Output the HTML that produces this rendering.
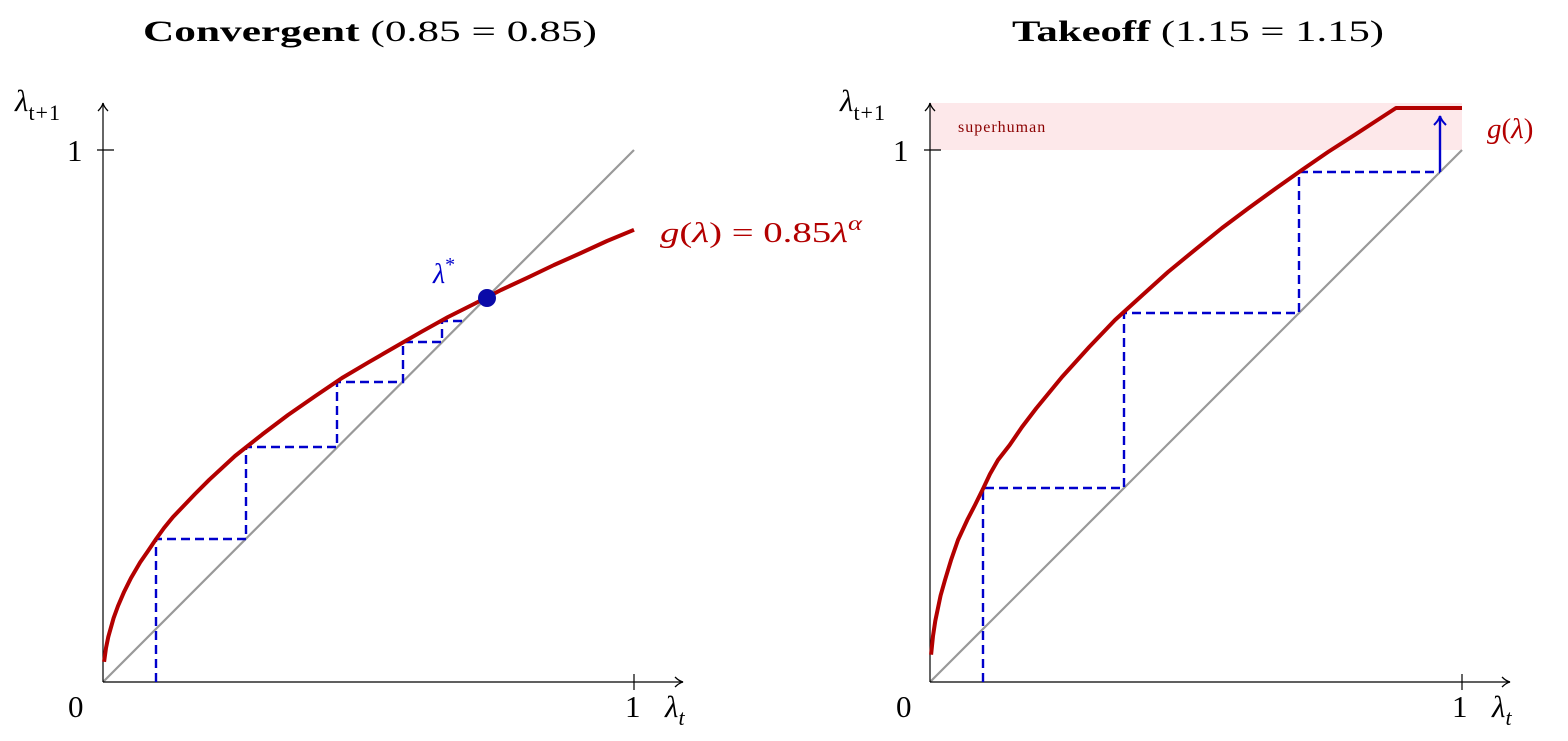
<!DOCTYPE html>
<html><head><meta charset="utf-8"><style>
html,body{margin:0;padding:0;background:#fff;}
svg{display:block;font-family:"Liberation Serif",serif;}
</style></head><body>
<svg width="1568" height="741" viewBox="0 0 1568 741" xmlns="http://www.w3.org/2000/svg">
<defs>
<marker id="ar" markerWidth="12" markerHeight="12" refX="9" refY="6" orient="auto" markerUnits="userSpaceOnUse">
<path d="M1,1 Q5,5 9,6 Q5,7 1,11" fill="none" stroke="#000" stroke-width="1.3"/></marker>
<marker id="ab" markerWidth="14" markerHeight="14" refX="10" refY="7" orient="auto" markerUnits="userSpaceOnUse">
<path d="M1,1 Q6,6 10,7 Q6,8 1,13" fill="none" stroke="#0000cc" stroke-width="2"/></marker>
</defs>
<!-- titles -->
<text x="143" y="41" font-size="30" textLength="454" lengthAdjust="spacingAndGlyphs"><tspan font-weight="bold">Convergent</tspan> (0.85 = 0.85)</text>
<text x="1012" y="41" font-size="30" textLength="372" lengthAdjust="spacingAndGlyphs"><tspan font-weight="bold">Takeoff</tspan> (1.15 = 1.15)</text>

<!-- LEFT -->
<line x1="103" y1="682" x2="634" y2="150" stroke="#999" stroke-width="2.2"/>
<line x1="103" y1="682" x2="103" y2="103" stroke="#000" stroke-width="1.2" marker-end="url(#ar)"/>
<line x1="103" y1="682" x2="683" y2="682" stroke="#000" stroke-width="1.2" marker-end="url(#ar)"/>
<line x1="97" y1="150" x2="114" y2="150" stroke="#000" stroke-width="1.2"/>
<line x1="634" y1="674" x2="634" y2="690" stroke="#000" stroke-width="1.2"/>
<polyline fill="none" stroke="#0000cc" stroke-width="2.4" stroke-dasharray="9,5" points="156,682 156,539 246,539 246,447 337,447 337,382 403,382 403,342 442,342 442,321 464,321"/>
<polyline fill="none" stroke="#b30000" stroke-width="4" stroke-linejoin="round" points="104.1,661.8 106,648 108.3,636.8 113.6,618.1 118,606 124.2,591.6 131,578 140.2,562.3 148,551 156.1,539 164,528 173,517 182.7,506.9 195,494 209.2,479.8 235,456 262.3,434.4 288,415 315.4,396 342,378 368.5,362.3 395,347 421.6,331.7 448,317 474.7,303.6 501,290 527.8,277.6 554,265 580.9,253 607,241 634,229.8"/>
<circle cx="487" cy="298" r="9" fill="#0a0aa8"/>
<text x="433" y="283" font-size="28" fill="#0000cc" font-style="italic">λ<tspan font-size="20" font-style="normal" dy="-12">*</tspan></text>
<text x="660" y="242" font-size="29" fill="#b30000" textLength="202" lengthAdjust="spacingAndGlyphs"><tspan font-style="italic">g</tspan>(<tspan font-style="italic">λ</tspan>) = 0.85<tspan font-style="italic">λ</tspan><tspan font-size="20" font-style="italic" dy="-12">α</tspan></text>
<text x="15" y="111" font-size="31" font-style="italic">λ<tspan font-size="22" font-style="normal" dy="9" letter-spacing="1">t+1</tspan></text>
<text x="67" y="161" font-size="31">1</text>
<text x="68" y="717" font-size="31">0</text>
<text x="625" y="717" font-size="31">1</text>
<text x="665" y="717" font-size="31" font-style="italic">λ<tspan font-size="22" dy="8">t</tspan></text>

<!-- RIGHT -->
<rect x="930" y="103" width="532" height="47" fill="#fde8ea"/>
<text x="958" y="132" font-size="16" fill="#8b0000" letter-spacing="1">superhuman</text>
<line x1="930" y1="682" x2="1462" y2="150" stroke="#999" stroke-width="2.2"/>
<line x1="930" y1="682" x2="930" y2="103" stroke="#000" stroke-width="1.2" marker-end="url(#ar)"/>
<line x1="930" y1="682" x2="1510" y2="682" stroke="#000" stroke-width="1.2" marker-end="url(#ar)"/>
<line x1="924" y1="150" x2="941" y2="150" stroke="#000" stroke-width="1.2"/>
<line x1="1462" y1="674" x2="1462" y2="690" stroke="#000" stroke-width="1.2"/>
<polyline fill="none" stroke="#0000cc" stroke-width="2.4" stroke-dasharray="9,5" points="983,682 983,488 1124,488 1124,313 1299,313 1299,172 1440,172"/>
<line x1="1440" y1="172" x2="1440" y2="116" stroke="#0000cc" stroke-width="2.4" marker-end="url(#ab)"/>
<polyline fill="none" stroke="#b30000" stroke-width="4" stroke-linejoin="round" points="931.1,654.7 933,636 935.3,620.8 940.6,595.5 945,580 951.2,559.6 958,540 967.2,520.1 975,505 983.1,488.6 990,474 998,460 1009.7,445 1022,427 1036.2,408.4 1062,377 1089.3,346.9 1115,320 1142.4,295.1 1168,272 1195.5,249.4 1222,228 1248.6,208.1 1275,189 1301.7,170.1 1328,152 1354.8,134.8 1376,121 1396,108 1462,108"/>
<text x="1487" y="138" font-size="29" fill="#b30000"><tspan font-style="italic">g</tspan>(<tspan font-style="italic">λ</tspan>)</text>
<text x="840" y="111" font-size="31" font-style="italic">λ<tspan font-size="22" font-style="normal" dy="9" letter-spacing="1">t+1</tspan></text>
<text x="893" y="161" font-size="31">1</text>
<text x="896" y="717" font-size="31">0</text>
<text x="1452" y="717" font-size="31">1</text>
<text x="1492" y="717" font-size="31" font-style="italic">λ<tspan font-size="22" dy="8">t</tspan></text>
</svg>
</body></html>
